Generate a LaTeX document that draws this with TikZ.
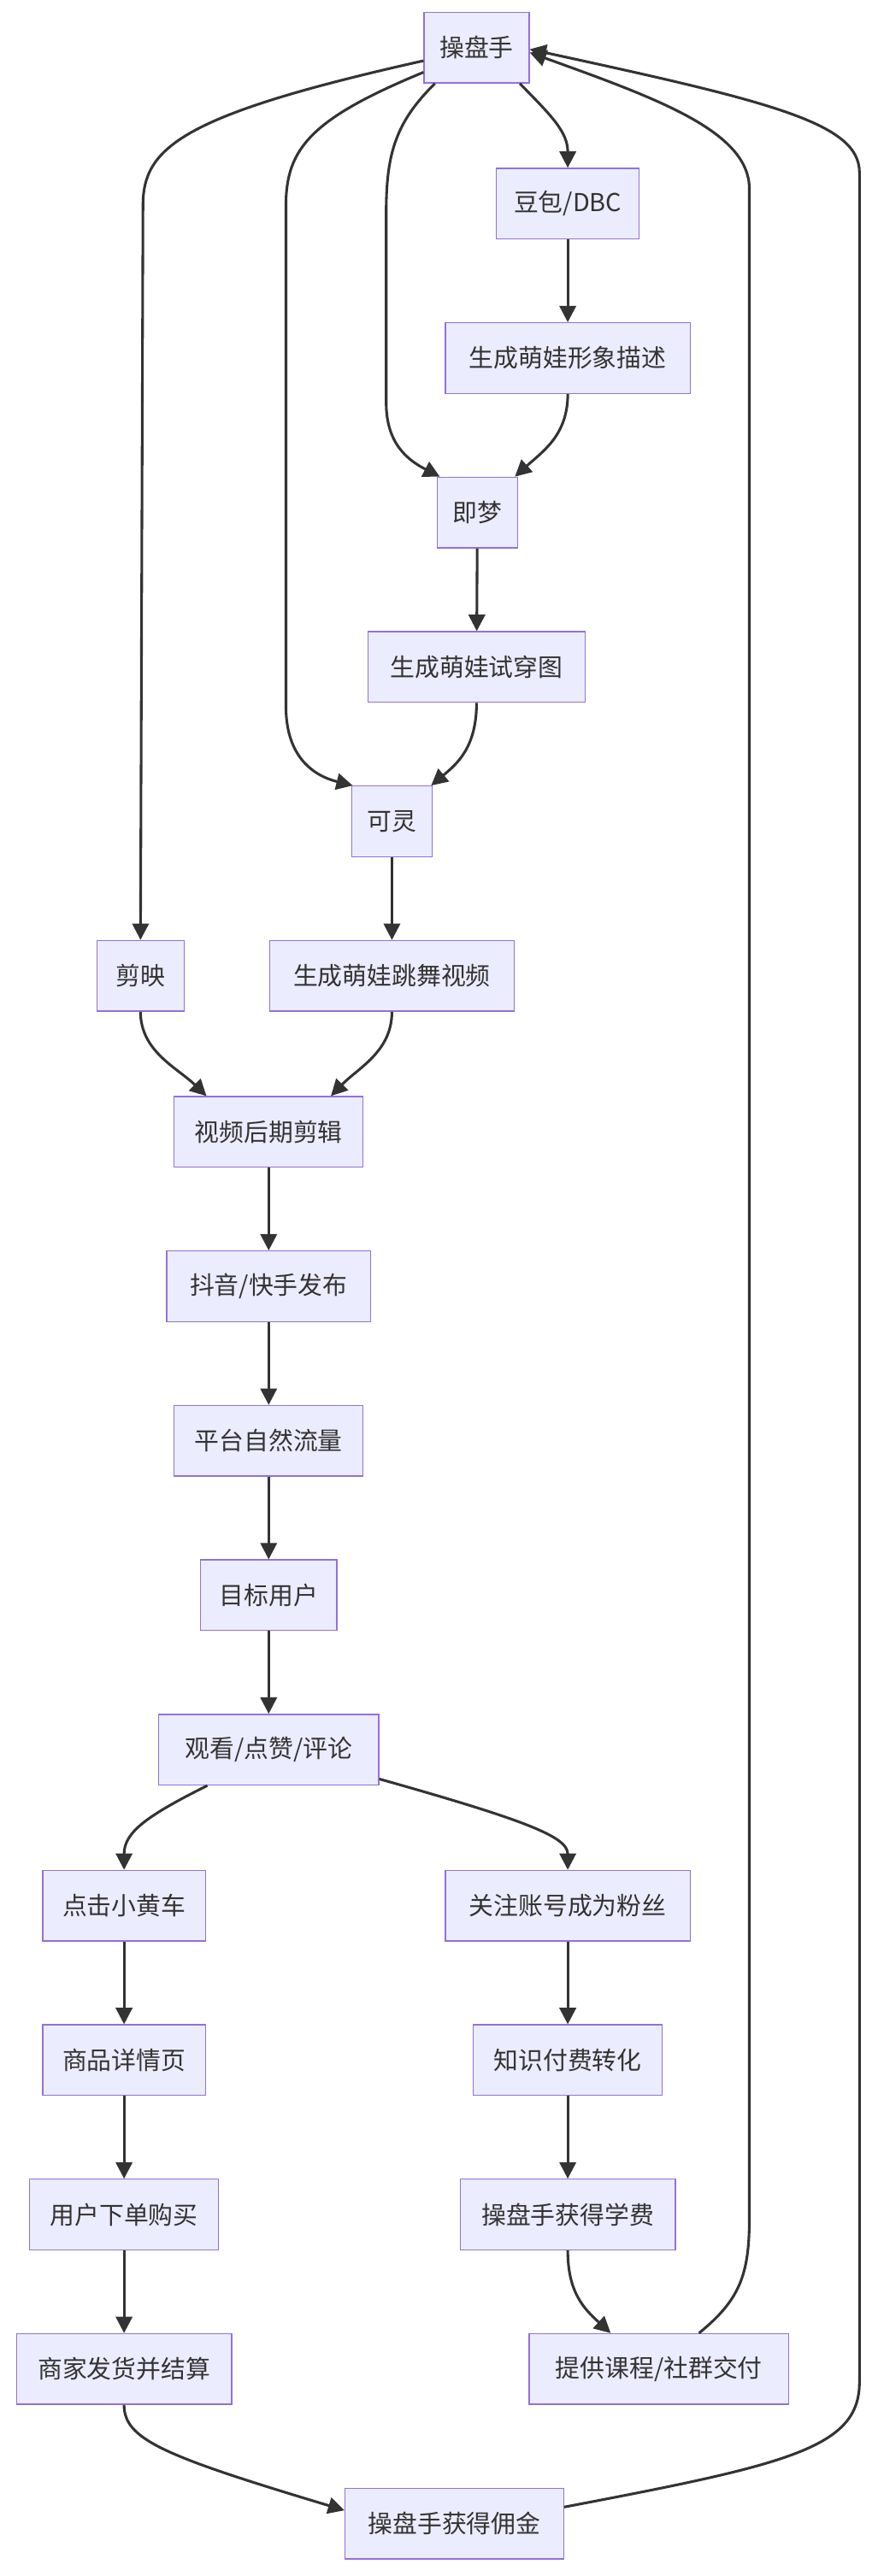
\documentclass[tikz,border=0pt]{standalone}
\usepackage{fontspec}
\setmainfont{Noto Sans CJK SC}
\usetikzlibrary{arrows.meta,calc}
\begin{document}
\begin{tikzpicture}[x=1pt,y=-1pt,
  box/.style={draw=boxline,fill=boxfill,line width=0.7pt,minimum height=43pt,inner sep=0pt,text=black!80,font=\fontsize{15}{18}\selectfont},
  e/.style={draw=edgec,line width=1.6pt,-{Triangle[length=10pt,width=10pt]}}]
\definecolor{boxline}{HTML}{9370DB}
\definecolor{boxfill}{HTML}{ECECFF}
\definecolor{edgec}{HTML}{333333}
\useasboundingbox (0,0) rectangle (534,1568);
\node[box,minimum width=64pt] (czs) at (290,29) {操盘手};
\node[box,minimum width=87pt] (db) at (345.5,124) {豆包/DBC};
\node[box,minimum width=149pt] (xx) at (345.5,218) {生成萌娃形象描述};
\node[box,minimum width=49pt] (jm) at (290.5,312) {即梦};
\node[box,minimum width=132pt] (sc) at (290,406) {生成萌娃试穿图};
\node[box,minimum width=49pt] (kl) at (238.5,500) {可灵};
\node[box,minimum width=53pt] (jy) at (85.5,594) {剪映};
\node[box,minimum width=149pt] (tw) at (238.5,594) {生成萌娃跳舞视频};
\node[box,minimum width=115pt] (hq) at (163.5,689) {视频后期剪辑};
\node[box,minimum width=124pt] (dy) at (163.5,783) {抖音/快手发布};
\node[box,minimum width=115pt] (pt) at (163.5,877) {平台自然流量};
\node[box,minimum width=83pt] (mb) at (163.5,971) {目标用户};
\node[box,minimum width=134pt] (gk) at (163.5,1065) {观看/点赞/评论};
\node[box,minimum width=99pt] (dj) at (75.5,1160) {点击小黄车};
\node[box,minimum width=99pt] (sp) at (75.5,1254) {商品详情页};
\node[box,minimum width=115pt] (yh) at (75.5,1348) {用户下单购买};
\node[box,minimum width=131pt] (sj) at (75.5,1442) {商家发货并结算};
\node[box,minimum width=149pt] (gz) at (345.5,1160) {关注账号成为粉丝};
\node[box,minimum width=115pt] (zs) at (345.5,1254) {知识付费转化};
\node[box,minimum width=131pt] (xf) at (345.5,1348) {操盘手获得学费};
\node[box,minimum width=158pt] (tg) at (401,1442) {提供课程/社群交付};
\node[box,minimum width=133pt] (yj) at (276.5,1536) {操盘手获得佣金};
% top fan-out
\draw[e] ($(czs.west)+(0,8)$) .. controls (110,70) and (87,90) .. (87,125) -- (jy.north);
\draw[e] ($(czs.west)+(0,15)$) .. controls (190,72) and (174,90) .. (174,125) -- (174,430) .. controls (174,460) and (190,472) .. ($(kl.north west)+(1,0)$);
\draw[e] ($(czs.south west)+(7,0)$) .. controls (240,75) and (235,95) .. (235,130) -- (235,245) .. controls (235,270) and (248,280) .. ($(jm.north west)+(2,0)$);
\draw[e] ($(czs.south east)+(-6,0)$) .. controls (335,70) and (345.5,80) .. (db.north);
\draw[e] (db) -- (xx);
\draw[e] (xx.south) .. controls (345.5,265) and (330,275) .. ($(jm.north east)+(-2,0)$);
\draw[e] (jm) -- (sc);
\draw[e] (sc.south) .. controls (290,455) and (278,465) .. ($(kl.north east)+(-1,0)$);
\draw[e] (kl) -- (tw);
\draw[e] (jy.south) .. controls (85.5,640) and (108,650) .. ($(hq.north west)+(20,0)$);
\draw[e] (tw.south) .. controls (238.5,640) and (218,650) .. ($(hq.north east)+(-20,0)$);
\draw[e] (hq) -- (dy);
\draw[e] (dy) -- (pt);
\draw[e] (pt) -- (mb);
\draw[e] (mb) -- (gk);
\draw[e] ($(gk.south west)+(30,0)$) .. controls (90,1105) and (75.5,1115) .. (dj.north);
\draw[e] ($(gk.south east)+(0,-4)$) .. controls (320,1108) and (345.5,1118) .. (gz.north);
\draw[e] (dj) -- (sp);
\draw[e] (sp) -- (yh);
\draw[e] (yh) -- (sj);
\draw[e] (gz) -- (zs);
\draw[e] (zs) -- (xf);
\draw[e] (xf.south) .. controls (345.5,1395) and (355,1405) .. ($(tg.north west)+(50,0)$);
\draw[e] ($(tg.north east)+(-55,0)$) .. controls (450,1400) and (456,1385) .. (456,1350) -- (456,115) .. controls (456,80) and (400,60) .. ($(czs.east)+(0,3)$);
\draw[e] (sj.south) .. controls (75.5,1485) and (100,1495) .. ($(yj.west)+(0,-8)$);
\draw[e] ($(yj.east)+(0,-10)$) .. controls (480,1500) and (523,1490) .. (523,1450) -- (523,105) .. controls (523,75) and (470,62) .. ($(czs.east)+(0,1)$);
\end{tikzpicture}
\end{document}
